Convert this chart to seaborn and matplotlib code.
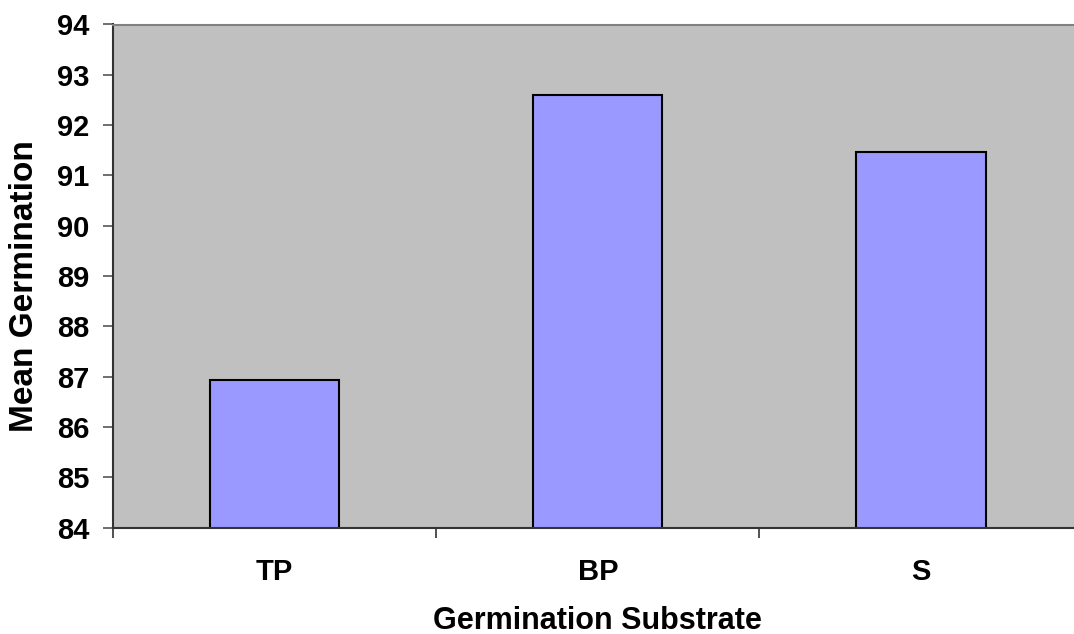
import matplotlib
matplotlib.use("Agg")
import matplotlib.pyplot as plt
import seaborn as sns
import pandas as pd
from matplotlib.ticker import FixedLocator

categories = ["TP", "BP", "S"]
mean_germination = [86.93, 92.6, 91.47]
y_ticks = [84, 85, 86, 87, 88, 89, 90, 91, 92, 93, 94]

sns.set_style("white")
plt.rcParams['font.family'] = ['Liberation Sans', 'DejaVu Sans']
plt.rcParams['font.weight'] = 'bold'
plt.rcParams['text.color'] = 'black'
plt.rcParams['axes.labelcolor'] = 'black'
plt.rcParams['xtick.color'] = 'black'
plt.rcParams['ytick.color'] = 'black'

df = pd.DataFrame({"Substrate": categories, "Mean": mean_germination})

fig = plt.figure(figsize=(10.74, 6.34), dpi=100)
ax = fig.add_axes([113/1074, 1 - 527.7/634, (1082.5 - 113)/1074, (527.7 - 24.5)/634])
ax.set_facecolor("#C0C0C0")

sns.barplot(data=df, x="Substrate", y="Mean", order=categories, color="#9999FF",
            width=0.4, edgecolor="black", linewidth=1.5, saturation=1, ax=ax)

ax.set_ylim(84, 94)
ax.set_xlim(-0.5, 2.5)
ax.set_yticks(y_ticks)
ax.set_yticklabels([str(v) for v in y_ticks], fontsize=21, fontweight='bold', color='black')
ax.set_xticks(range(len(categories)))
ax.set_xticklabels(categories, fontsize=21, fontweight='bold', color='black')
ax.xaxis.set_minor_locator(FixedLocator([-0.5, 0.5, 1.5, 2.5]))
ax.tick_params(axis='x', which='major', length=0, pad=22)
ax.tick_params(axis='x', which='minor', length=7, width=1.2, color='#333333', direction='out', bottom=True)
ax.tick_params(axis='y', which='major', length=7, width=1.2, color='#555555', direction='out', left=True, pad=10)

for side in ['left', 'bottom']:
    ax.spines[side].set_color('#333333')
    ax.spines[side].set_linewidth(1.5)
ax.spines['top'].set_color('#808080')
ax.spines['top'].set_linewidth(1.5)
ax.spines['right'].set_visible(False)

ax.set_xlabel("Germination Substrate", fontsize=22, fontweight='bold', color='black')
ax.set_ylabel("Mean Germination", fontsize=24, fontweight='bold', color='black')
ax.xaxis.label.set_va('center')
ax.yaxis.label.set_va('center')
ax.xaxis.set_label_coords((597.5 - 113) / 969.5, (527.7 - 621) / 503.2)
ax.yaxis.set_label_coords((25 - 113) / 969.5, (527.7 - 286) / 503.2)

fig.savefig("out.png", dpi=100)
